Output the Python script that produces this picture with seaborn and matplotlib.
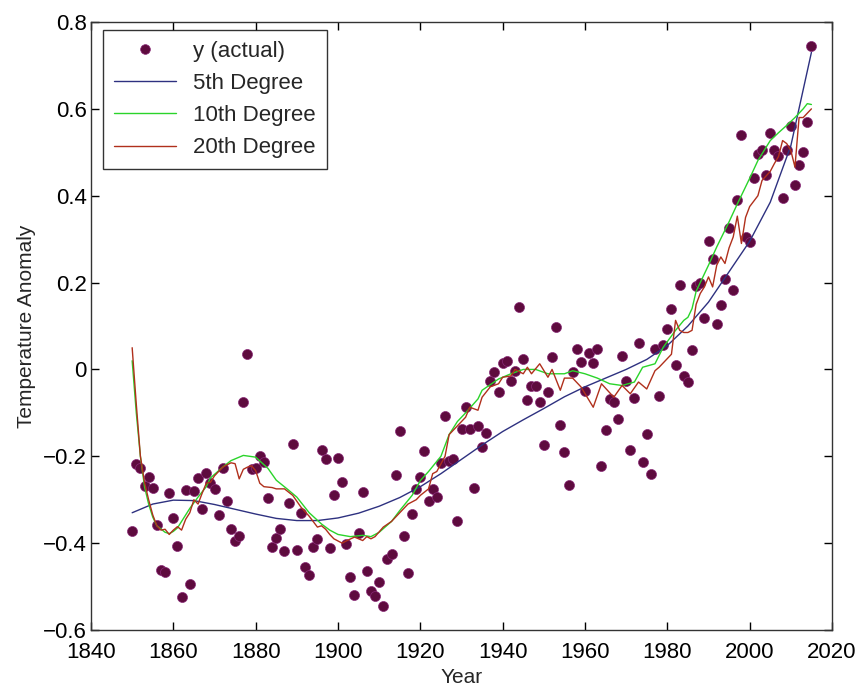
import numpy as np
import pandas as pd
import matplotlib
matplotlib.use("Agg")
import matplotlib.pyplot as plt
import seaborn as sns
from matplotlib.lines import Line2D

# ---------------- data ----------------
years = np.arange(1850, 2016)
anomaly = [
    -0.373, -0.218, -0.228, -0.269, -0.248, -0.272, -0.358, -0.461, -0.467, -0.284,
    -0.343, -0.407, -0.524, -0.278, -0.494, -0.279, -0.251, -0.321, -0.238, -0.262,
    -0.276, -0.335, -0.227, -0.304, -0.368, -0.395, -0.384, -0.075, 0.035, -0.230,
    -0.227, -0.200, -0.213, -0.296, -0.409, -0.389, -0.367, -0.418, -0.307, -0.171,
    -0.416, -0.330, -0.455, -0.473, -0.410, -0.390, -0.186, -0.206, -0.412, -0.289,
    -0.203, -0.259, -0.402, -0.479, -0.520, -0.377, -0.283, -0.465, -0.511, -0.522,
    -0.490, -0.544, -0.437, -0.424, -0.244, -0.141, -0.383, -0.468, -0.333, -0.275,
    -0.247, -0.187, -0.302, -0.276, -0.294, -0.215, -0.108, -0.210, -0.206, -0.350,
    -0.137, -0.087, -0.137, -0.273, -0.131, -0.178, -0.147, -0.026, -0.006, -0.052,
    0.014, 0.020, -0.027, -0.004, 0.144, 0.025, -0.071, -0.038, -0.039, -0.074,
    -0.173, -0.052, 0.028, 0.097, -0.129, -0.190, -0.267, -0.007, 0.046, 0.017,
    -0.049, 0.038, 0.014, 0.048, -0.223, -0.140, -0.068, -0.074, -0.113, 0.032,
    -0.027, -0.186, -0.065, 0.062, -0.214, -0.149, -0.241, 0.047, -0.062, 0.057,
    0.092, 0.140, 0.011, 0.194, -0.014, -0.030, 0.045, 0.192, 0.198, 0.118,
    0.296, 0.254, 0.105, 0.148, 0.208, 0.325, 0.183, 0.390, 0.539, 0.306,
    0.294, 0.441, 0.496, 0.505, 0.447, 0.545, 0.506, 0.491, 0.395, 0.506,
    0.560, 0.425, 0.470, 0.500, 0.570, 0.745,
]

deg5_years = [1850, 1855, 1860, 1865, 1870, 1875, 1880, 1885, 1890, 1895, 1900,
              1905, 1910, 1915, 1920, 1925, 1930, 1935, 1940, 1945, 1950, 1955,
              1960, 1965, 1970, 1975, 1980, 1985, 1990, 1995, 2000, 2005, 2010, 2015]
deg5_vals = [-0.330, -0.310, -0.301, -0.302, -0.311, -0.322, -0.333, -0.343, -0.348,
             -0.348, -0.342, -0.331, -0.315, -0.295, -0.270, -0.240, -0.207, -0.174,
             -0.143, -0.116, -0.090, -0.063, -0.040, -0.020, 0.000, 0.023, 0.055,
             0.100, 0.155, 0.225, 0.295, 0.385, 0.515, 0.730]

deg10_years = [1850, 1851, 1852, 1853, 1854, 1855, 1856, 1858, 1859, 1860, 1861, 1863,
               1864, 1866, 1868, 1869, 1872, 1874, 1877, 1880, 1883, 1885, 1888, 1890,
               1893, 1896, 1898, 1900, 1903, 1906, 1908, 1910, 1913, 1915, 1918, 1920,
               1922, 1925, 1927, 1929, 1931, 1934, 1935, 1937, 1939, 1942, 1945, 1948,
               1951, 1955, 1957, 1960, 1963, 1966, 1969, 1972, 1974, 1977, 1979, 1982,
               1984, 1985, 1986, 1987, 1988, 1990, 1992, 1995, 1997, 2000, 2002, 2005,
               2007, 2009, 2011, 2013, 2014, 2015]
deg10_vals = [0.020, -0.100, -0.200, -0.270, -0.310, -0.340, -0.360, -0.375, -0.378,
              -0.373, -0.365, -0.335, -0.320, -0.294, -0.270, -0.250, -0.225, -0.210,
              -0.198, -0.202, -0.228, -0.255, -0.278, -0.294, -0.330, -0.356, -0.370,
              -0.380, -0.385, -0.382, -0.385, -0.375, -0.350, -0.325, -0.290, -0.256,
              -0.235, -0.200, -0.150, -0.120, -0.100, -0.068, -0.048, -0.035, -0.022,
              -0.010, 0.000, 0.000, -0.010, -0.010, -0.003, -0.010, -0.020, -0.033,
              -0.037, -0.029, 0.005, 0.013, 0.051, 0.090, 0.113, 0.120, 0.140, 0.180,
              0.200, 0.240, 0.282, 0.340, 0.381, 0.440, 0.481, 0.527, 0.545, 0.562,
              0.580, 0.600, 0.612, 0.610]

deg20_years = [1850, 1851, 1852, 1853, 1854, 1855, 1856, 1857, 1858, 1859, 1860, 1861,
               1862, 1863, 1864, 1865, 1866, 1867, 1868, 1869, 1870, 1872, 1874, 1875,
               1876, 1877, 1878, 1879, 1880, 1881, 1882, 1884, 1885, 1887, 1889, 1891,
               1893, 1895, 1896, 1897, 1898, 1899, 1901, 1902, 1904, 1905, 1906, 1907,
               1908, 1909, 1911, 1913, 1914, 1917, 1919, 1920, 1922, 1923, 1924, 1926,
               1927, 1929, 1931, 1932, 1934, 1935, 1937, 1939, 1940, 1942, 1943, 1945,
               1946, 1947, 1949, 1951, 1952, 1954, 1955, 1957, 1959, 1962, 1964, 1967,
               1969, 1971, 1973, 1975, 1977, 1978, 1980, 1981, 1982, 1983, 1984, 1985,
               1986, 1987, 1988, 1989, 1990, 1991, 1992, 1993, 1994, 1995, 1996, 1997,
               1998, 1999, 2000, 2002, 2003, 2005, 2006, 2007, 2008, 2009, 2010, 2011,
               2012, 2013, 2014, 2015]
deg20_vals = [0.050, -0.080, -0.200, -0.260, -0.300, -0.335, -0.360, -0.370, -0.368,
              -0.380, -0.370, -0.362, -0.370, -0.345, -0.330, -0.300, -0.310, -0.285,
              -0.262, -0.260, -0.245, -0.225, -0.215, -0.217, -0.252, -0.230, -0.225,
              -0.222, -0.233, -0.262, -0.270, -0.272, -0.275, -0.275, -0.290, -0.317,
              -0.338, -0.363, -0.360, -0.368, -0.380, -0.390, -0.400, -0.395, -0.386,
              -0.390, -0.394, -0.385, -0.390, -0.385, -0.363, -0.350, -0.340, -0.310,
              -0.300, -0.290, -0.275, -0.240, -0.235, -0.200, -0.150, -0.130, -0.110,
              -0.087, -0.094, -0.064, -0.040, -0.033, -0.018, -0.015, 0.000, -0.010,
              0.005, -0.010, 0.013, -0.018, 0.000, -0.048, -0.020, -0.020, -0.040,
              -0.087, -0.033, -0.064, -0.037, -0.056, -0.029, -0.045, -0.003, 0.005,
              0.025, 0.035, 0.113, 0.090, 0.085, 0.085, 0.090, 0.150, 0.175, 0.190,
              0.213, 0.190, 0.240, 0.259, 0.244, 0.280, 0.305, 0.353, 0.290, 0.350,
              0.375, 0.400, 0.435, 0.456, 0.474, 0.490, 0.527, 0.520, 0.504, 0.466,
              0.580, 0.580, 0.590, 0.600]

x_ticks = [1840, 1860, 1880, 1900, 1920, 1940, 1960, 1980, 2000, 2020]
y_ticks = [-0.6, -0.4, -0.2, 0.0, 0.2, 0.4, 0.6, 0.8]
y_tick_labels = ["\u22120.6", "\u22120.4", "\u22120.2", "0", "0.2", "0.4", "0.6", "0.8"]
labels = ["y (actual)", "5th Degree", "10th Degree", "20th Degree"]

# ---------------- style ----------------
sns.set_style("ticks")
plt.rcParams["font.family"] = ["Liberation Sans", "DejaVu Sans"]

dot_color = "#5e0b3e"
c5 = "#2e3180"
c10 = "#2ad42a"
c20 = "#b0301c"

fig = plt.figure(figsize=(8.62, 6.88), dpi=100)
ax = fig.add_axes([91 / 862, 1 - 630 / 688, 741 / 862, 608 / 688])

df_pts = pd.DataFrame({"Year": years, "Anomaly": anomaly})
sns.scatterplot(data=df_pts, x="Year", y="Anomaly", ax=ax, s=52, color=dot_color,
                edgecolor="#8a2a78", linewidth=0.5, zorder=3)
sns.lineplot(x=deg5_years, y=deg5_vals, ax=ax, color=c5, lw=1.0, zorder=4)
sns.lineplot(x=deg10_years, y=deg10_vals, ax=ax, color=c10, lw=1.0, zorder=4)
sns.lineplot(x=deg20_years, y=deg20_vals, ax=ax, color=c20, lw=1.0, zorder=5)

ax.set_xlim(1840, 2020)
ax.set_ylim(-0.6, 0.8)
ax.set_xticks(x_ticks)
ax.set_yticks(y_ticks)
ax.set_yticklabels(y_tick_labels)
ax.tick_params(direction="in", length=6, width=1, top=True, right=True,
               labelsize=16, colors="black")
ax.tick_params(axis="x", pad=9)
ax.tick_params(axis="y", pad=3)
for sp in ax.spines.values():
    sp.set_visible(True)
    sp.set_linewidth(1.0)
    sp.set_color("#333333")

ax.set_xlabel("Year", fontsize=15, labelpad=3)
ax.set_ylabel("Temperature Anomaly", fontsize=15, labelpad=5)

handles = [
    Line2D([], [], marker="o", ls="none", color=dot_color, markersize=7,
           markeredgecolor="#8a2a78", markeredgewidth=0.5),
    Line2D([], [], color=c5, lw=1.0),
    Line2D([], [], color=c10, lw=1.0),
    Line2D([], [], color=c20, lw=1.0),
]
leg = ax.legend(handles, labels, loc="upper left", bbox_to_anchor=(0.016, 0.987),
                borderaxespad=0, frameon=True, fancybox=False, fontsize=16,
                handlelength=2.8, handletextpad=0.75, labelspacing=0.5,
                borderpad=0.5, edgecolor="black")
leg.get_frame().set_linewidth(1.0)

fig.savefig("out.png", dpi=100)
